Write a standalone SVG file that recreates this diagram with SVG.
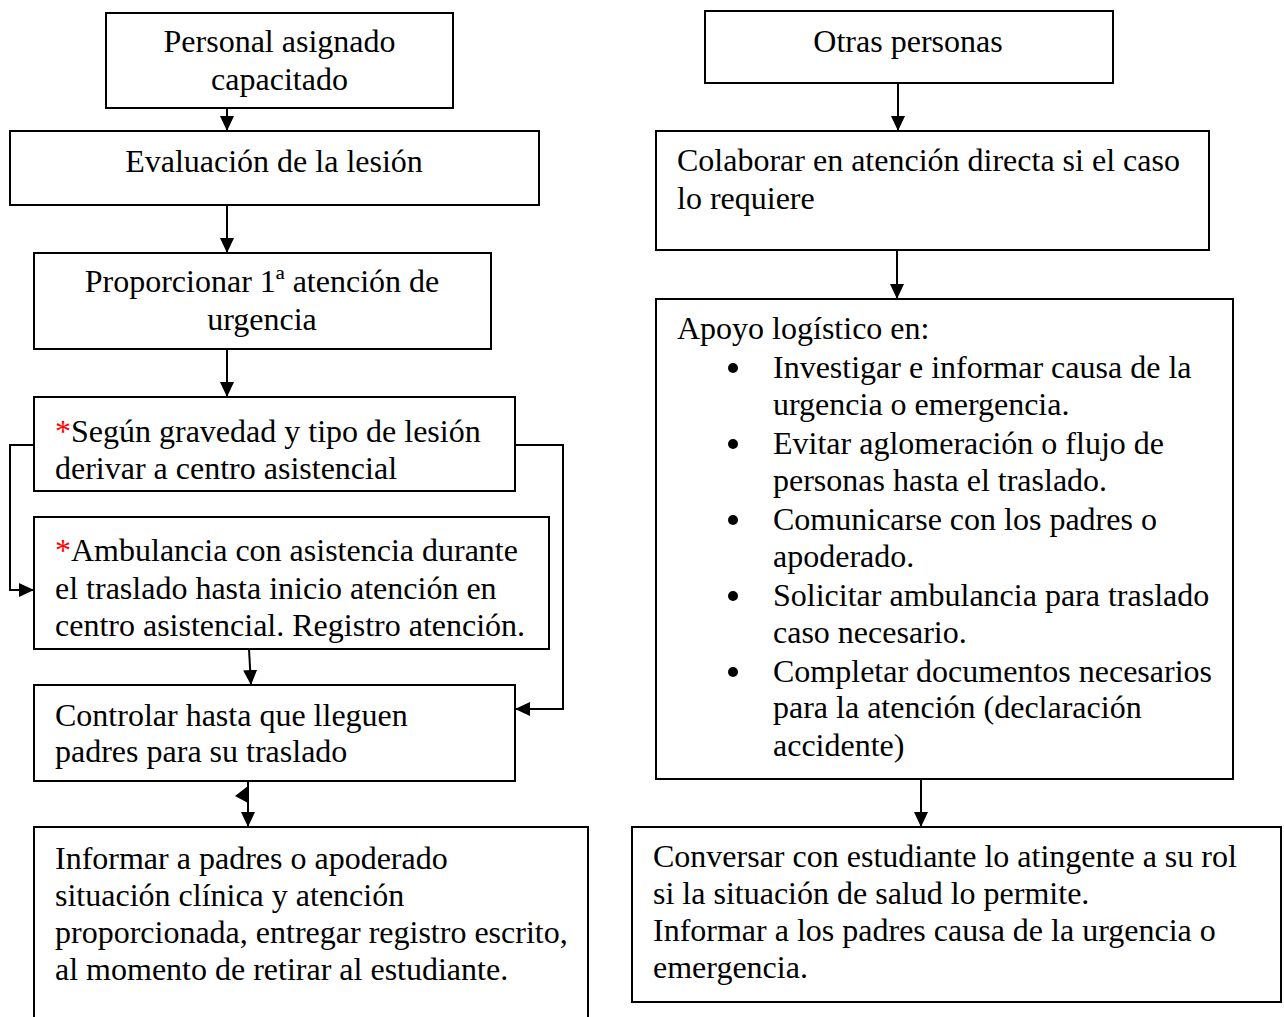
<svg xmlns="http://www.w3.org/2000/svg" width="1284" height="1017" viewBox="0 0 1284 1017">
<defs>
<style>
.box{fill:#fff;stroke:#000;stroke-width:2}
.t{font-family:"Liberation Serif","Times New Roman",serif;font-size:32px;fill:#000}
.c{text-anchor:middle}
.red{fill:#ff0000}
.con{fill:none;stroke:#000;stroke-width:2}
</style>
<marker id="ah" markerUnits="userSpaceOnUse" markerWidth="16" markerHeight="14" refX="15" refY="7" orient="auto">
<path d="M0,0 L15,7 L0,14 z" fill="#000"/>
</marker>
<clipPath id="clipE"><rect x="34" y="517" width="515" height="130"/></clipPath>
</defs>
<rect width="1284" height="1017" fill="#fff"/>

<g id="nodeA">
<rect class="box" x="106" y="13" width="347" height="95"/>
<text class="t c" x="279.5" y="52">Personal asignado</text>
<text class="t c" x="279.5" y="90">capacitado</text>
</g>
<g id="nodeB">
<rect class="box" x="10" y="131" width="529" height="74"/>
<text class="t c" x="274" y="172">Evaluación de la lesión</text>
</g>
<g id="nodeC">
<rect class="box" x="34" y="253" width="457" height="96"/>
<text class="t c" x="262" y="292">Proporcionar 1ª atención de</text>
<text class="t c" x="262" y="330">urgencia</text>
</g>
<g id="nodeD">
<rect class="box" x="34" y="397" width="481" height="94"/>
<text class="t" x="55" y="442"><tspan class="red">*</tspan>Según gravedad y tipo de lesión</text>
<text class="t" x="55" y="479">derivar a centro asistencial</text>
</g>
<g id="nodeE">
<rect class="box" x="34" y="517" width="515" height="132"/>
<g clip-path="url(#clipE)">
<text class="t" x="55" y="561"><tspan class="red">*</tspan>Ambulancia con asistencia durante</text>
<text class="t" x="55" y="599">el traslado hasta inicio atención en</text>
<text class="t" x="55" y="636">centro asistencial. Registro atención.</text>
</g>
</g>
<g id="nodeF">
<rect class="box" x="34" y="685" width="481" height="96"/>
<text class="t" x="55" y="726">Controlar hasta que lleguen</text>
<text class="t" x="55" y="762">padres para su traslado</text>
</g>
<g id="nodeG">
<rect class="box" x="34" y="827" width="554" height="220"/>
<text class="t" x="55" y="869">Informar a padres o apoderado</text>
<text class="t" x="55" y="906">situación clínica y atención</text>
<text class="t" x="55" y="943">proporcionada, entregar registro escrito,</text>
<text class="t" x="55" y="980">al momento de retirar al estudiante.</text>
</g>

<g id="nodeH">
<rect class="box" x="705" y="11" width="408" height="72"/>
<text class="t c" x="908" y="52">Otras personas</text>
</g>
<g id="nodeI">
<rect class="box" x="656" y="131" width="553" height="119"/>
<text class="t" x="677" y="171">Colaborar en atención directa si el caso</text>
<text class="t" x="677" y="209">lo requiere</text>
</g>
<g id="nodeJ">
<rect class="box" x="656" y="299" width="577" height="480"/>
<text class="t" x="677" y="339">Apoyo logístico en:</text>
<circle cx="733" cy="368" r="5"/>
<circle cx="733" cy="444" r="5"/>
<circle cx="733" cy="520" r="5"/>
<circle cx="733" cy="596" r="5"/>
<circle cx="733" cy="672" r="5"/>
<text class="t" x="773" y="378">Investigar e informar causa de la</text>
<text class="t" x="773" y="415">urgencia o emergencia.</text>
<text class="t" x="773" y="454">Evitar aglomeración o flujo de</text>
<text class="t" x="773" y="491">personas hasta el traslado.</text>
<text class="t" x="773" y="530">Comunicarse con los padres o</text>
<text class="t" x="773" y="567">apoderado.</text>
<text class="t" x="773" y="606">Solicitar ambulancia para traslado</text>
<text class="t" x="773" y="643">caso necesario.</text>
<text class="t" x="773" y="682">Completar documentos necesarios</text>
<text class="t" x="773" y="718">para la atención (declaración</text>
<text class="t" x="773" y="756">accidente)</text>
</g>
<g id="nodeK">
<rect class="box" x="632" y="827" width="649" height="175"/>
<text class="t" x="653" y="867">Conversar con estudiante lo atingente a su rol</text>
<text class="t" x="653" y="904">si la situación de salud lo permite.</text>
<text class="t" x="653" y="941">Informar a los padres causa de la urgencia o</text>
<text class="t" x="653" y="978">emergencia.</text>
</g>

<g id="connectors">
<line class="con" x1="227" y1="108" x2="227" y2="131" marker-end="url(#ah)"/>
<line class="con" x1="227" y1="205" x2="227" y2="253" marker-end="url(#ah)"/>
<line class="con" x1="227" y1="349" x2="227" y2="397" marker-end="url(#ah)"/>
<path class="con" d="M34,445 H10 V590 H34" marker-end="url(#ah)"/>
<path class="con" d="M515,445 H563 V709 H515" marker-end="url(#ah)"/>
<path class="con" d="M249,649 L251,685" marker-end="url(#ah)"/>
<line class="con" x1="248" y1="781" x2="248" y2="827" marker-end="url(#ah)"/>
<polygon points="235,796 248,786 248,803" fill="#000"/>
<line class="con" x1="898" y1="83" x2="898" y2="131" marker-end="url(#ah)"/>
<line class="con" x1="897" y1="250" x2="897" y2="299" marker-end="url(#ah)"/>
<line class="con" x1="921" y1="779" x2="921" y2="827" marker-end="url(#ah)"/>
</g>
</svg>
